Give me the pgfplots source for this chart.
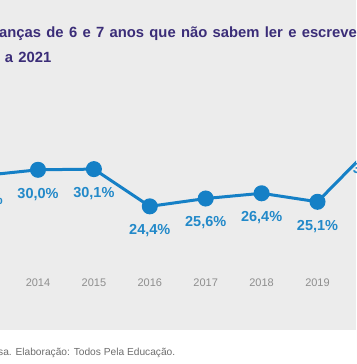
\documentclass[border=0pt]{standalone}
\usepackage{pgfplots}
\pgfplotsset{compat=1.18}
\usepackage{fontspec}
\setmainfont{Liberation Sans}
\definecolor{bggray}{HTML}{ECECEC}
\definecolor{lineblue}{HTML}{1580C6}
\definecolor{labelblue}{HTML}{2289C9}
\definecolor{titlepurple}{HTML}{3B2D78}
\definecolor{yeargray}{HTML}{8E8E8E}
\definecolor{footgray}{HTML}{6E6E6E}
\newcommand\titlefont{\fontsize{14.8}{16}\selectfont\bfseries}
\newcommand\widespace{\spaceskip=5.3pt plus 1pt minus 1pt\relax}
\begin{document}
\begin{tikzpicture}
\useasboundingbox (0pt,0pt) rectangle (356pt,364pt);
\begin{scope}[overlay]
\clip (0pt,0pt) rectangle (356pt,364pt);
\fill[white] (0pt,0pt) rectangle (356pt,364pt);
\fill[bggray] (0pt,34pt) rectangle (356pt,364pt);
% title
\node[anchor=base west, inner sep=0pt, text=titlepurple, font=\titlefont]
  at (-1pt,326pt) {\widespace\llap{Percentual de cri}anças de 6 e 7 anos que não sabem ler e escrever,};
\node[anchor=base west, inner sep=0pt, text=titlepurple, font=\titlefont]
  at (-8.8pt,301.5pt) {\widespace\llap{Brasil, 201}2 a 2021};
% footer
\node[anchor=base west, inner sep=0pt, text=footgray, font=\fontsize{10.2}{12}\selectfont]
  at (-2pt,8.5pt) {\llap{Fonte: IBGE/Pnad Contínua. Microdados da pesqui}sa. Elaboração: Todos Pela Educação.};
\begin{axis}[
  at={(-73.8pt,77pt)}, anchor=south west,
  x=55.9pt, y=6.53pt,
  xmin=2012, xmax=2021, ymin=12.05, ymax=45,
  enlargelimits=false,
  clip=false,
  axis line style={draw=none},
  major tick length=0pt,
  ytick=\empty,
  xtick={2012,2013,2014,2015,2016,2017,2018,2019,2020,2021},
  xticklabels={2012,2013,2014,2015,2016,2017,2018,2019,2020,2021},
  xticklabel style={anchor=base, inner sep=0pt, text=yeargray, font=\fontsize{11}{12}\selectfont},
  nodes near coords={\pgfmathprintnumber[fixed,fixed zerofill,precision=1,use comma,assume math mode=true]{\pgfplotspointmeta}\%},
  every node near coord/.append style={anchor=center, yshift=-24.5pt, inner sep=0pt, text=labelblue, font=\fontsize{14.5}{16}\selectfont\bfseries},
]
\addplot[color=lineblue, line width=3pt, mark=*, mark size=6.5pt, mark options={fill=lineblue, draw=none}]
  coordinates {(2012,28.2) (2013,29.1) (2014,30.0) (2015,30.1) (2016,24.4) (2017,25.6) (2018,26.4) (2019,25.1) (2020,33.8) (2021,40.8)};
\end{axis}
\end{scope}
\end{tikzpicture}
\end{document}
